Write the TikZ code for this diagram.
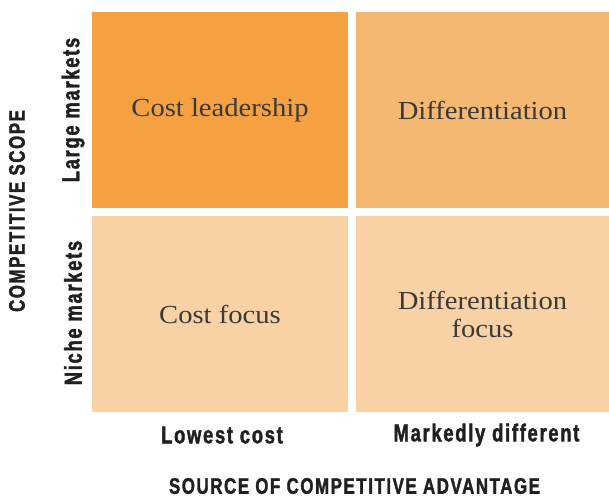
\documentclass[tikz,border=0pt]{standalone}
\usepackage{fontspec}
\setmainfont{Liberation Serif}[FakeStretch=1.1]
\newfontfamily\condfont[FakeStretch=0.75,LetterSpace=7,FakeBold=1.6]{Liberation Sans}
\definecolor{cellA}{HTML}{F5A142}
\definecolor{cellB}{HTML}{F4B872}
\definecolor{cellC}{HTML}{F8D1A5}
\definecolor{serifink}{HTML}{3A3A3A}
\definecolor{labelink}{HTML}{231F20}
\begin{document}
\begin{tikzpicture}[x=1pt,y=-1pt,
  cell/.style={draw=none,inner sep=0pt,align=center,text=serifink,
    font=\fontsize{26}{28}\selectfont},
  leftcell/.style={cell,minimum width=256pt,minimum height=196pt},
  rightcell/.style={cell,minimum width=253pt,minimum height=196pt},
  lab/.style={inner sep=0pt,text=labelink,font=\condfont\bfseries\fontsize{24.5}{26}\selectfont},
  title/.style={inner sep=0pt,text=labelink,font=\condfont\bfseries\fontsize{22.5}{24}\selectfont}]
\useasboundingbox (0,0) rectangle (609,497);
\fill[white] (0,0) rectangle (609,497);
\node[leftcell,fill=cellA] (tl) at (220,110) {Cost leadership};
\node[rightcell,fill=cellB] (tr) at (482.5,110) {Differentiation};
\node[leftcell,fill=cellC] (bl) at (220,314) {Cost focus};
\node[rightcell,fill=cellC] (br) at (482.5,314) {Differentiation\\focus};
\node[lab] (low) at (222,435) {Lowest cost};
\node[lab] (mark) at (486.5,435) {Markedly different};
\node[title] (src) at (354.5,486) {SOURCE OF COMPETITIVE ADVANTAGE};
\node[lab,rotate=90] (large) at (73,110) {Large markets};
\node[lab,rotate=90] (niche) at (73,313) {Niche markets};
\node[title,rotate=90] (scope) at (17,211) {COMPETITIVE SCOPE};
\end{tikzpicture}
\end{document}
